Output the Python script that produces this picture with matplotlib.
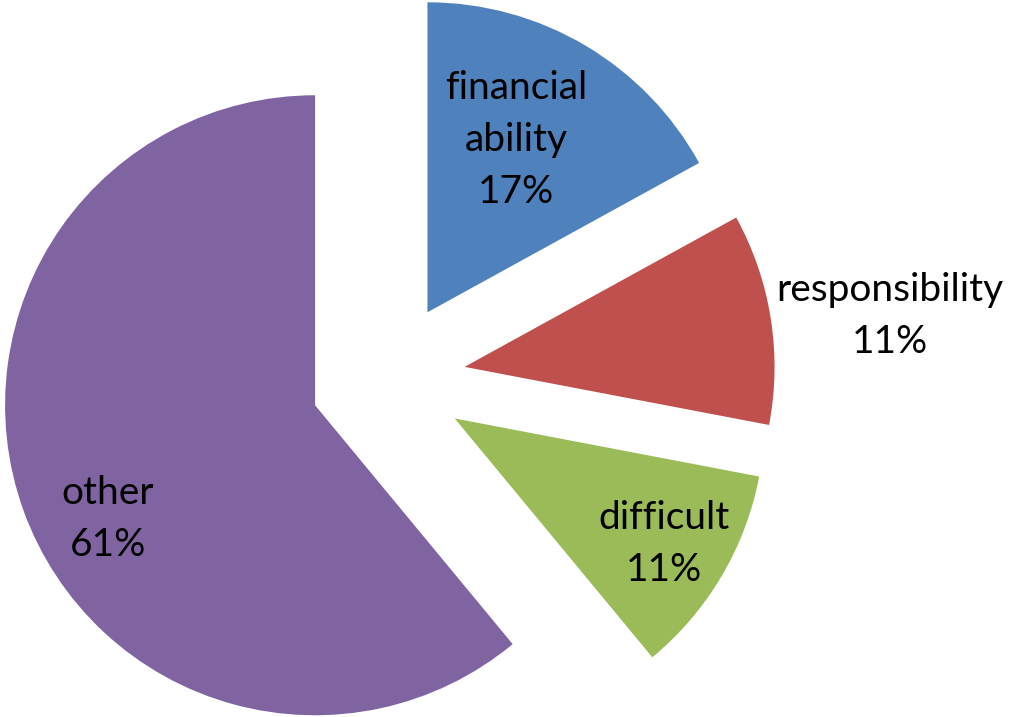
import matplotlib
matplotlib.use("Agg")
import matplotlib.pyplot as plt

# slice data
labels = ["financial\nability", "responsibility", "difficult", "other"]
shares = [17, 11, 11, 61]
colors = ["#4F81BD", "#C0504D", "#9BBB59", "#8064A2"]

# label spots (data units, pie radius = 1)
label_pos = [(0.413, 0.771), (1.619, 0.203), (0.890, -0.532), (-0.903, -0.452)]

fig = plt.figure(figsize=(10.09, 7.17), dpi=100)
ax = fig.add_axes([0, 0, 1, 1])

ax.pie(shares, colors=colors, startangle=90, counterclock=False,
       explode=[0.25] * len(shares), radius=1.0,
       wedgeprops=dict(linewidth=0))

for lab, val, (x, y) in zip(labels, shares, label_pos):
    ax.text(x, y, "%s\n%d%%" % (lab, val), ha="center", va="center",
            fontsize=28, family="Lato", linespacing=1.55)

# fit the view to the picture
ax.set_xlim(-388 / 310, (1009 - 388) / 310)
ax.set_ylim(-(717 - 379) / 310, 379 / 310)
ax.set_aspect("auto")
ax.axis("off")

fig.savefig("out.png", dpi=100)
